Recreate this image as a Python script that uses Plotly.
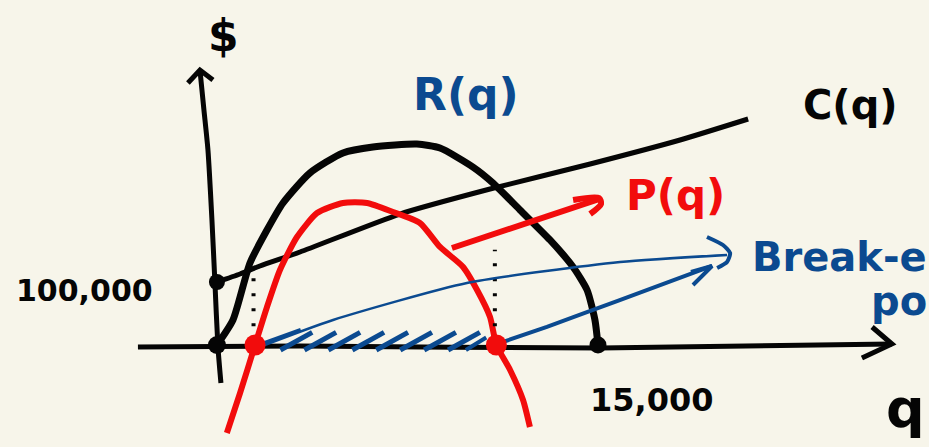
import numpy as np
import plotly.graph_objects as go

PAPER = "#f7f5ea"
INK = "#050505"
RED = "#f20c0c"
BLUE = "#0b4a90"
FONT = "DejaVu Sans"

# quantity q in thousands of units, money in thousands of dollars
rev_q = [0, 0.63, 1.30, 1.97, 2.60, 3.66, 4.96, 6.14, 7.87, 8.78, 10.08, 10.87,
         11.93, 13.11, 14.02, 14.57, 14.88, 15.0]
rev_d = [0, 39.7, 130.2, 182.5, 225.4, 273.0, 304.8, 314.3, 319.0, 312.7, 282.5,
         257.1, 214.3, 166.7, 123.8, 87.3, 39.7, 0]

cost_q = [0, 0.91, 1.69, 3.27, 7.20, 10.75, 14.69, 18.23, 20.91]
cost_d = [100, 112.7, 125.4, 147.6, 207.9, 247.6, 287.3, 325.4, 358.7]

prof_q = [0.39, 0.91, 1.5, 1.97, 2.48, 3.15, 3.94, 4.96, 5.91, 6.93, 7.99, 8.78,
          9.69, 10.24, 10.75, 11.0, 11.54, 12.05, 12.32]
prof_d = [-139.7, -76.2, 0, 60.3, 119.0, 171.4, 209.5, 225.4, 225.4, 211.1, 193.7,
          155.6, 123.8, 87.3, 44.4, 0, -39.7, -87.3, -130.2]

fixed_cost = 100          # $100,000 at q = 0
max_q = 15                # revenue returns to zero at 15,000 units
break_even_q = [1.5, 11.0]
# top of the dotted guides above each break-even point
guide_top = [114, 151]

fig = go.Figure()


def stroke(xs, ys, color, width, dash="solid", smooth=0.6):
    fig.add_trace(go.Scatter(
        x=xs, y=ys, mode="lines", hoverinfo="skip",
        line=dict(color=color, width=width, dash=dash, shape="spline", smoothing=smooth),
    ))


def dots(xs, ys, color, size):
    fig.add_trace(go.Scatter(
        x=xs, y=ys, mode="markers", hoverinfo="skip",
        marker=dict(color=color, size=size, opacity=1, line=dict(width=0)),
    ))


# hand-drawn axes
stroke([0.157, 0.039, -0.079, -0.197, -0.354, -0.512, -0.669],
       [-60.3, -3.2, 98.4, 198.4, 309.5, 373.0, 436.5], INK, 5)
stroke([-1.142, -0.669, -0.157], [415.9, 436.5, 420.6], INK, 5, smooth=0)
stroke([-3.11, 3.27, 15.08, 26.57], [-3.2, -1.6, -4.8, 1.6], INK, 5)
stroke([25.79, 26.57, 25.39], [28.6, 1.6, -20.6], INK, 5, smooth=0)

# shaded band between the break-even quantities
q1, q2 = break_even_q
stroke([q1, q1 + 1.8], [-2, 24], BLUE, 4, smooth=0)
for q in np.linspace(q1 + 1.0, q2 - 1.9, 8):
    stroke([q, q + 1.25], [-8, 20], BLUE, 5, smooth=0)
stroke([q2 - 1.2, q2 - 0.4], [-8, 12], BLUE, 4, smooth=0)

# revenue, cost and profit curves
stroke(rev_q, rev_d, INK, 7)
stroke(cost_q, cost_d, INK, 5)
stroke(prof_q, prof_d, RED, 6)

# dotted guides from the break-even points
for q, top in zip(break_even_q, guide_top):
    stroke([q - 0.06, q - 0.06], [6, top], INK, 4, dash="3px,12px", smooth=0)

# pointer arrows
stroke([9.25, 15.0], [154.0, 231.0], RED, 6, smooth=0)
stroke([14.02, 15.04, 15.12, 14.69], [230.2, 233.3, 223.8, 207.9], RED, 6, smooth=0.8)

stroke([1.57, 4.57, 9.84, 15.87, 20.08], [-4.8, 39.7, 98.4, 131.7, 143.0], BLUE, 2.5)
stroke([19.29, 19.92, 20.20, 20.08, 19.69], [171.4, 158.7, 146.0, 131.7, 122.2], BLUE, 4)

stroke([11.14, 12.99, 15.75, 19.49], [3.2, 28.6, 69.8, 125.4], BLUE, 4, smooth=0.3)
stroke([18.66, 19.49, 18.74], [115.9, 125.4, 95.2], BLUE, 4, smooth=0)

# key points: fixed cost, origin, capacity, break-even
dots([0], [fixed_cost], INK, 16)
dots([0], [0], INK, 18)
dots([max_q], [0], INK, 17)
dots(break_even_q, [0, 0], RED, 21)

labels = [
    ("$", 0.25, 492, INK, 44, "center"),
    ("R(q)", 9.8, 398, BLUE, 44, "center"),
    ("C(q)", 24.95, 381, INK, 40, "center"),
    ("P(q)", 18.05, 238, RED, 42, "center"),
    ("100,000", -5.2, 87, INK, 30, "center"),
    ("15,000", 17.1, -87, INK, 32, "center"),
    ("q", 27.1, -100, INK, 54, "center"),
]
for text, x, y, color, size, anchor in labels:
    fig.add_annotation(
        x=x, y=y, xref="x", yref="y", text=text, showarrow=False,
        xanchor=anchor, yanchor="middle",
        font=dict(family=FONT, size=size, color=color, weight="bold"),
    )

# the break-even caption runs into the right edge of the page
for text, y in [("Break-e", 139), ("po", 70)]:
    fig.add_annotation(
        x=1.0, y=y, xref="paper", yref="y", text=text, showarrow=False,
        xanchor="right", yanchor="middle",
        font=dict(family=FONT, size=40, color=BLUE, weight="bold"),
    )

fig.update_layout(
    width=929, height=447,
    margin=dict(l=0, r=0, t=0, b=0),
    paper_bgcolor=PAPER, plot_bgcolor=PAPER,
    showlegend=False,
    xaxis=dict(range=[-8.54, 28.03], visible=False, fixedrange=True),
    yaxis=dict(range=[-161.9, 547.6], visible=False, fixedrange=True),
)

fig.write_html("out.html", config={"displayModeBar": False})
